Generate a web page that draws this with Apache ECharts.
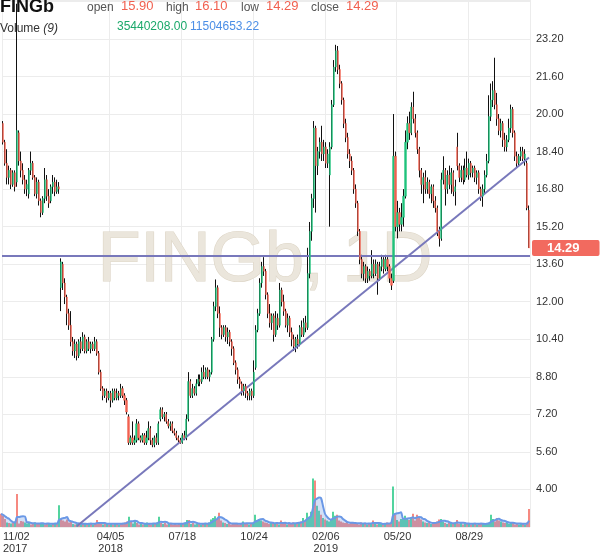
<!DOCTYPE html>
<html><head><meta charset="utf-8">
<script src="https://cdn.jsdelivr.net/npm/echarts@6/dist/echarts.min.js"></script>
<style>html,body{margin:0;padding:0;background:#fff}#c{width:600px;height:558px}</style>
</head><body><div id="c"></div>
<script>
// each candle = 2 trading days: [open, close, low, high]
const candles = [
[19.6,18.8,18.7,19.7],[18.8,17.9,17.8,18.9],[17.9,17.3,17.0,18.5],[17.3,17.6,17.0,17.8],[17.6,17.0,16.8,17.7],
[17.0,17.5,16.9,17.6],[17.5,16.9,16.7,17.6],[17.1,19.3,16.9,24.7],[19.2,18.0,17.8,19.3],[18.0,17.6,17.3,18.4],
[17.6,17.2,17.0,17.9],[17.2,16.8,16.6,17.4],[16.8,17.0,16.5,17.2],[16.6,17.6,16.4,17.7],[17.6,17.9,17.4,18.4],
[17.9,17.3,17.2,18.0],[17.3,16.6,16.5,17.4],[16.6,17.1,16.4,17.3],[17.1,16.3,16.1,17.2],[16.3,15.8,15.6,16.4],
[15.8,16.4,15.7,16.5],[16.4,17.2,16.2,17.7],[17.2,16.5,16.3,17.4],[16.5,16.2,16.0,16.8],[16.3,16.9,16.2,17.0],
[16.9,17.1,16.6,17.4],[17.1,16.7,16.5,17.3],[16.7,16.9,16.6,17.2],[16.9,16.8,16.6,17.1],[12.6,13.7,11.6,13.85],
[13.6,12.8,12.5,13.7],[12.8,12.2,11.9,13.0],[12.2,11.5,11.0,12.3],[11.5,11.0,10.8,11.7],[11.0,10.3,10.1,11.6],
[10.3,9.9,9.7,10.5],[9.9,10.2,9.6,10.4],[10.2,9.7,9.5,10.3],[9.7,10.3,9.6,10.4],[10.3,10.0,9.8,10.5],
[10.0,10.5,9.9,10.7],[10.5,9.9,9.8,10.6],[9.9,10.3,9.8,10.4],[10.3,10.0,9.9,10.5],[10.0,10.2,9.8,10.3],
[10.2,10.0,9.9,10.3],[10.0,10.3,9.9,10.5],[10.3,9.8,9.7,10.4],[9.8,9.0,8.9,9.9],[9.0,8.3,8.2,9.1],
[8.3,8.0,7.8,8.4],[8.0,8.2,7.9,8.3],[8.2,7.9,7.7,8.3],[7.9,8.1,7.8,8.2],[8.1,7.8,7.5,8.2],
[7.8,8.2,7.7,8.3],[8.2,7.9,7.8,8.3],[7.9,8.1,7.8,8.3],[8.1,8.0,7.8,8.2],[8.0,8.3,7.9,8.5],
[8.3,8.0,7.9,8.4],[8.0,7.8,7.6,8.1],[7.8,7.3,7.2,7.9],[7.1,6.0,5.9,7.2],[6.0,6.2,5.9,6.3],
[6.2,6.0,5.9,6.9],[6.0,6.1,5.9,6.3],[6.1,6.8,6.0,7.0],[6.8,6.2,6.1,6.9],[6.2,6.1,6.0,6.3],
[6.1,6.3,6.0,6.4],[6.3,6.0,5.9,6.4],[6.0,6.2,5.9,6.5],[6.2,6.6,6.1,6.9],[6.6,6.1,5.9,6.7],
[6.1,5.9,5.8,6.2],[5.9,6.2,5.8,6.3],[6.2,6.0,5.9,6.4],[6.0,6.8,5.9,6.9],[7.0,7.4,6.9,7.5],
[7.4,7.1,7.0,7.5],[7.1,7.2,6.9,7.3],[7.2,6.9,6.8,7.3],[6.9,6.7,6.6,7.0],[6.7,6.8,6.5,6.9],
[6.8,6.5,6.4,6.9],[6.5,6.4,6.3,6.6],[6.4,6.2,6.1,6.5],[6.2,6.1,6.0,6.3],[6.1,6.0,5.95,6.2],
[6.0,6.3,5.95,6.4],[6.3,6.2,6.1,6.5],[6.2,7.0,6.1,7.2],[7.0,8.6,6.9,9.0],[8.6,8.0,7.9,8.7],
[8.0,8.3,7.9,8.5],[8.3,8.1,8.0,8.4],[8.1,8.5,8.0,8.7],[8.5,8.7,8.4,8.9],[8.7,8.6,8.4,8.9],
[8.6,9.0,8.5,9.2],[9.0,8.8,8.7,9.3],[8.8,9.1,8.7,9.2],[9.1,8.8,8.7,9.2],[8.8,9.0,8.6,9.1],
[9.0,10.4,8.9,10.5],[10.4,11.8,10.3,12.0],[11.8,12.6,11.6,12.95],[12.6,11.5,11.3,12.7],[11.5,10.9,10.5,11.8],
[10.9,10.6,10.4,11.0],[10.6,10.9,10.5,11.0],[10.9,10.5,10.3,11.0],[10.5,10.7,10.2,10.9],[10.7,10.3,10.1,10.8],
[10.3,10.0,9.7,10.4],[10.0,9.4,9.3,10.1],[9.4,9.1,8.9,9.5],[9.1,8.7,8.5,9.2],[8.7,8.5,8.3,8.8],
[8.5,8.2,8.0,8.6],[8.2,8.4,8.0,8.5],[8.4,8.1,7.9,8.5],[8.1,8.0,7.8,8.2],[8.0,8.2,7.8,8.3],
[8.2,8.0,7.8,8.3],[8.0,9.0,7.9,9.5],[9.2,10.8,9.1,11.0],[10.8,11.5,10.7,11.7],[11.5,12.8,11.4,13.0],
[12.8,13.5,12.6,13.7],[13.5,13.3,13.1,13.9],[13.3,12.3,12.1,13.4],[12.3,11.5,11.3,12.4],[11.5,11.1,10.9,11.9],
[11.1,11.4,10.8,11.5],[11.4,10.6,10.3,11.5],[10.6,11.3,10.5,11.6],[11.3,11.0,10.8,11.5],[11.0,12.5,10.9,12.8],
[12.5,12.0,11.8,12.6],[12.0,11.6,11.4,12.3],[11.6,11.0,10.9,11.7],[11.0,11.3,10.7,11.5],[11.3,10.7,10.5,11.4],
[10.7,10.4,10.1,10.9],[10.4,10.1,9.9,10.6],[10.1,10.4,9.85,10.5],[10.4,10.2,10.0,10.6],[10.2,10.9,10.1,11.0],
[10.9,10.6,10.5,11.2],[10.6,11.1,10.5,11.3],[11.1,10.9,10.7,11.4],[10.9,13.2,10.8,14.3],[13.2,15.0,13.0,15.4],
[15.0,16.4,14.6,16.6],[16.4,19.4,16.0,19.7],[19.4,17.8,15.8,19.5],[17.8,18.4,17.4,18.6],[18.4,18.8,18.1,19.0],
[18.8,18.3,18.0,19.5],[18.3,18.6,18.0,18.9],[18.6,17.9,17.7,18.8],[17.9,18.3,17.7,18.5],[17.4,18.6,15.2,18.8],
[18.6,20.4,18.5,20.6],[20.4,22.0,20.3,22.3],[22.0,22.7,21.8,22.95],[22.7,21.9,21.7,22.9],[21.9,21.3,21.1,22.1],
[21.3,20.6,20.4,21.4],[20.6,19.6,19.4,20.7],[19.6,19.0,18.8,19.8],[19.0,18.3,18.1,19.2],[18.3,18.0,17.7,18.5],
[18.0,17.6,17.4,18.2],[17.6,16.8,16.6,17.7],[16.8,16.2,16.0,17.0],[16.2,15.0,14.8,16.3],[15.0,13.8,13.6,15.1],
[13.8,13.2,13.0,14.0],[13.2,13.5,12.9,13.7],[13.5,13.0,12.8,13.6],[13.0,13.3,12.8,13.5],[13.3,13.1,12.9,13.4],
[13.1,13.6,13.0,14.2],[13.6,13.2,13.0,13.8],[13.2,13.6,13.1,13.8],[13.6,13.0,12.3,13.7],[13.0,13.5,12.9,13.7],
[13.5,13.8,13.3,14.0],[13.8,13.4,13.2,13.9],[13.4,13.8,13.3,14.0],[13.8,13.5,13.3,13.9],[13.5,13.0,12.8,13.6],
[13.0,12.7,12.5,13.2],[12.9,18.2,12.8,20.0],[18.2,15.2,15.0,18.4],[15.2,15.8,14.7,16.3],[15.8,15.3,15.0,16.0],
[15.3,15.6,15.0,16.2],[15.6,16.5,15.2,16.8],[16.5,18.8,16.4,19.3],[18.8,19.6,18.5,19.9],[19.6,19.2,18.9,20.1],
[19.2,20.3,19.1,20.5],[20.3,19.8,19.6,20.95],[19.8,19.2,19.0,20.0],[19.2,18.5,18.3,19.3],[18.5,17.6,17.3,18.6],
[17.6,17.0,16.6,17.7],[17.0,17.3,16.2,17.5],[17.3,16.8,16.6,17.6],[16.8,17.1,16.6,17.3],[17.1,16.6,16.4,17.2],
[16.6,16.9,16.2,17.0],[16.9,16.3,16.0,17.0],[16.3,16.0,15.8,16.5],[16.0,15.0,14.8,16.1],[15.0,14.7,14.35,15.2],
[14.7,17.2,14.6,17.5],[17.2,17.6,17.0,18.2],[17.6,16.8,16.1,17.7],[16.8,17.4,16.6,17.6],[17.4,17.0,16.8,17.8],
[17.0,17.5,16.6,17.7],[17.5,16.7,16.5,17.6],[16.7,16.9,16.1,17.2],[18.6,17.8,17.6,19.2],[17.8,17.3,17.1,17.9],
[17.3,17.6,17.1,17.8],[17.6,17.2,17.0,17.8],[17.2,17.7,17.1,18.1],[17.7,17.4,17.3,18.4],[17.4,17.9,17.2,18.1],
[17.9,17.5,17.3,18.0],[17.5,17.7,17.3,17.8],[17.7,17.3,17.1,17.8],[17.3,17.5,17.0,17.6],[17.5,16.8,16.6,17.6],
[16.8,16.5,16.3,16.9],[16.5,16.8,16.05,17.0],[16.8,17.4,16.6,17.6],[17.4,18.0,17.3,18.3],[18.0,19.9,17.9,20.8],
[19.9,20.6,19.7,21.3],[20.6,21.0,20.3,21.4],[21.0,20.4,20.2,22.4],[20.4,19.8,19.5,20.9],[19.8,19.3,19.1,20.0],
[19.3,19.6,19.0,19.8],[19.6,18.9,18.6,19.7],[18.9,18.6,18.4,19.2],[18.6,18.9,18.4,19.1],[18.9,19.4,18.8,19.8],
[19.4,20.2,19.2,20.4],[20.2,19.2,19.0,20.3],[19.2,18.2,18.0,19.3],[18.2,17.9,17.7,18.4],[17.9,18.2,17.75,18.3],
[18.2,18.4,18.0,18.6],[18.4,18.1,18.0,18.6],[18.1,18.3,17.8,18.5],[17.9,16.0,15.9,18.0],[15.90,14.29,14.29,16.10]
];
// volume in millions, one per candle
const volumes = [
26,22,16, 9,8,7,8,11, 65, 7,12,11,9,
7,8,5,7,9,6,7,8,6,5,8,7,5,6,8,7, 43, 16, 13,11,15,9,10,
6,5,8,6,5,8,6,5,7,8,5,6, 14, 6,8,5,6,8,5,7,5,8,6,5,7,8,9,11, 20, 10,
7,13,8,5,7,5,6, 9, 6,5,8,6,9, 20, 8,6,9,5,6,8,5,7,5,6,8,7,9,14, 14,
6,8,5,7,8,5,6,8,6,9, 15,18,21,16,28,13, 9,8,6,8,5,7,8,6,5,7, 11, 6,8,5,7,9,
24,14,16,13,11, 9,8,6,10,8,6,9,5, 13, 6,8,5,7,8,9,7,8,9, 11,18,13,
28,20,30,96,92,42,32, 24,18,15,13,11,15, 30,22,24, 13,11,9,8,10,6,8,9,
6,8,5,9,6,8,5,7,8, 13, 6,5,8,6,5,7,9,8,9, 80,24,
14,11,16,18,22,16,14,18,26,13,24,18,15,11,9, 8,9,6,8,9,11,15, 16,11, 8,6,9,8,6,9, 14,
6,8,5,7,8,6,5,7,8,5,6,8,6,5,8,9, 24,16,11,18, 13,11,9,8,10,6,8,9, 5,7,5,8,6,5,9, 35.44
];
const tickIndex = [0, 54, 90, 126, 162, 198, 234];
const tickLabels = ['11/02\n2017','04/05\n2018','07/18','10/24','02/06\n2019','05/20','08/29'];
const supportLevel = 13.97;
const trendLine = [[37, 2.43], [264, 18.15]];
const lastClose = 14.29;
const header = {open:'15.90', high:'16.10', low:'14.29', close:'14.29', vol:'35440208.00', volMA:'11504653.22'};

const GREEN = '#1ec27b', RED = '#f1604f', BLUE_LINE = '#7878bb';
const cats = candles.map((_, i) => String(i));
const tickMap = {}; tickIndex.forEach((t, k) => tickMap[t] = tickLabels[k]);
const isTick = (i) => tickMap[i] !== undefined;
const bodies = candles.map(c => [c[0], c[1], Math.min(c[0], c[1]), Math.max(c[0], c[1])]);
const volMA = volumes.map((v, i) => { const s = volumes.slice(Math.max(0, i - 4), i + 1); return s.reduce((a, b) => a + b, 0) / s.length; });
const volData = volumes.map((v, i) => ({value: v, itemStyle: {color: candles[i][1] >= candles[i][0] ? '#09c276' : '#f3574b'}}));

const FONT = '"Liberation Sans", Arial, sans-serif';
const chart = echarts.init(document.getElementById('c'));
function txt(text, x, y, size, fill, weight) {
  return {type: 'text', z: 10, style: {text, x, y, fill, fontSize: size, fontFamily: FONT, fontWeight: weight || 'normal', verticalAlign: 'middle'}};
}
chart.setOption({
  animation: false,
  backgroundColor: '#fff',
  graphic: [
    {type: 'text', z: 1, silent: true, style: {text: 'FINGb, 1D', x: 265, y: 262, align: 'center', verticalAlign: 'middle', fontSize: 70, fontFamily: FONT, fill: '#ebe6dc', stroke: '#ddd5c6', lineWidth: 1.2}},
    txt('FINGb', 0, 7.5, 18, '#111', 'bold'),
    txt('open', 87, 8, 12, '#555'), txt(header.open, 121, 6, 13, RED),
    txt('high', 166, 8, 12, '#555'), txt(header.high, 195, 6, 13, RED),
    txt('low', 241, 8, 12, '#555'), txt(header.low, 266, 6, 13, RED),
    txt('close', 311, 8, 12, '#555'), txt(header.close, 346, 6, 13, RED),
    {type: 'text', z: 10, style: {text: 'Volume {i|(9)}', x: 0, y: 29, fill: '#333', fontSize: 12, fontFamily: FONT, verticalAlign: 'middle', rich: {i: {fontStyle: 'italic', fontSize: 12, fontFamily: FONT, fill: '#333'}}}},
    txt(header.vol, 117, 27, 12, '#1aa86a'), txt(header.volMA, 190, 27, 12, '#4b8ee6')
  ],
  grid: [
    {left: 0, right: 70, top: 0, bottom: 31},
    {left: 0, right: 70, bottom: 31, height: 80}
  ],
  xAxis: [
    {type: 'category', gridIndex: 0, data: cats, boundaryGap: true,
     axisLine: {show: false}, axisTick: {show: false},
     axisLabel: {interval: (i) => isTick(i), formatter: (v, i) => tickMap[i] || '', color: '#333', fontSize: 11, lineHeight: 12, margin: 4, fontFamily: FONT, alignMinLabel: 'left'},
     splitLine: {show: true, interval: (i) => isTick(i), lineStyle: {color: '#ececec', width: 1}}},
    {type: 'category', gridIndex: 1, data: cats, boundaryGap: true, show: false}
  ],
  yAxis: [
    {type: 'value', gridIndex: 0, position: 'right', min: 2.4, max: 24.86, interval: 1.6,
     axisLine: {show: false}, axisTick: {show: false},
     axisLabel: {color: '#333', fontSize: 11, margin: 6, fontFamily: FONT, formatter: (v) => (v < 3 || v > 24) ? '' : v.toFixed(2)},
     splitLine: {lineStyle: {color: '#ececec'}}},
    {type: 'value', gridIndex: 1, min: 0, max: 158, show: false, splitLine: {show: false}}
  ],
  series: [
    {name: 'vol', type: 'bar', xAxisIndex: 1, yAxisIndex: 1, data: volData, barWidth: 1.4, z: 2},
    {name: 'volMA', type: 'line', xAxisIndex: 1, yAxisIndex: 1, data: volMA, showSymbol: false, smooth: 0.3,
     lineStyle: {color: '#6a98e6', width: 2}, areaStyle: {color: 'rgba(118,156,230,0.45)'}, z: 3},
    {name: 'wick', type: 'candlestick', data: candles, barWidth: 1, z: 4,
     itemStyle: {color: '#111', color0: '#111', borderColor: '#111', borderColor0: '#111', borderWidth: 1}},
    {name: 'body', type: 'candlestick', data: bodies, barWidth: 1.6, z: 5,
     itemStyle: {color: GREEN, color0: RED, borderColor: GREEN, borderColor0: RED, borderWidth: 0.4},
     markLine: {symbol: ['none', 'none'], silent: true, animation: false, label: {show: false},
      data: [
        [{coord: trendLine[0], lineStyle: {color: BLUE_LINE, width: 2, type: 'solid'}}, {coord: trendLine[1]}],
        {yAxis: supportLevel, lineStyle: {color: BLUE_LINE, width: 2, type: 'solid'}},
        {yAxis: lastClose, lineStyle: {color: 'rgba(0,0,0,0)', width: 0},
         label: {show: true, position: 'end', formatter: String(lastClose), color: '#fff', fontWeight: 'bold', fontSize: 13, fontFamily: FONT,
                 backgroundColor: '#f26a5f', padding: [2, 20, 1, 15], borderRadius: 2, distance: 2}}
      ]}}
  ]
});
</script></body></html>
